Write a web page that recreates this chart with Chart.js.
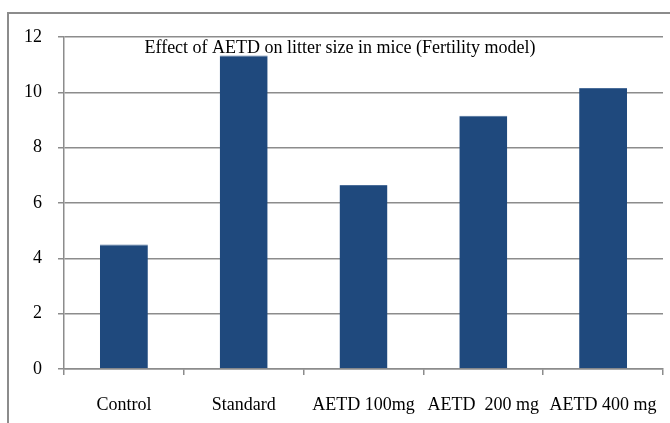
<!DOCTYPE html>
<html>
<head>
<meta charset="utf-8">
<script src="https://cdn.jsdelivr.net/npm/chart.js@4/dist/chart.umd.min.js"></script>
<style>
  html, body { margin: 0; padding: 0; background: #fff; overflow: hidden; }
  #frame { position: absolute; left: 7px; top: 12px; width: 720px; height: 480px; border: 2px solid #8c8c8c; }
  #wrap { position: absolute; left: 0; top: 0; width: 670px; height: 423px; }
</style>
</head>
<body>
<div id="frame"></div>
<div id="wrap"><canvas id="litterChart" width="670" height="423"></canvas></div>
<script>
// litter size data
const groups = ['Control', 'Standard', 'AETD 100mg', 'AETD  200 mg', 'AETD 400 mg'];
const litterSize = [4.5, 11.33, 6.65, 9.15, 10.16];
const yTicks = [0, 2, 4, 6, 8, 10, 12];
const chartTitle = 'Effect of AETD on litter size in mice (Fertility model)';

const serif = '"Liberation Serif", "Times New Roman", serif';
const gridGray = '#8c8c8c';

// title sits inside the plot area, over the bars
const titleInside = {
  id: 'titleInside',
  afterDatasetsDraw(chart) {
    const ctx = chart.ctx;
    ctx.save();
    ctx.font = '18px ' + serif;
    ctx.fillStyle = '#000';
    ctx.textAlign = 'center';
    ctx.textBaseline = 'middle';
    ctx.fillText(chartTitle, 340, 48);
    ctx.restore();
  }
};

const ctx = document.getElementById('litterChart').getContext('2d');
new Chart(ctx, {
  type: 'bar',
  data: {
    labels: groups,
    datasets: [
      {
        label: 'Litter size',
        data: litterSize,
        backgroundColor: '#1f497d',
        borderColor: '#4a6d99',
        borderWidth: { top: 1, left: 0, right: 0, bottom: 0 },
        borderSkipped: 'bottom',
        barPercentage: 0.4,
        categoryPercentage: 1,
      },
    ],
  },
  options: {
    responsive: false,
    animation: false,
    layout: { padding: { left: 0, right: 7, top: 37, bottom: 0 } },
    plugins: {
      legend: { display: false },
      title: { display: false },
      tooltip: { enabled: false },
    },
    scales: {
      x: {
        grid: {
          display: true,
          drawOnChartArea: false,
          drawTicks: true,
          tickLength: 6,
          color: gridGray,
          lineWidth: 1.5,
        },
        border: { display: true, color: gridGray, width: 1.5 },
        ticks: {
          color: '#000',
          font: { family: serif, size: 18 },
          padding: 19,
          maxRotation: 0,
          autoSkip: false,
        },
        afterFit(scale) {
          scale.height = 54;
          scale.paddingLeft = 0;
          scale.paddingRight = 0;
        },
      },
      y: {
        min: 0,
        max: 12,
        afterBuildTicks(scale) { scale.ticks = yTicks.map((v) => ({ value: v })); },
        grid: {
          color: gridGray,
          lineWidth: 1.5,
          tickLength: 6,
        },
        border: { display: true, color: gridGray, width: 1.5 },
        ticks: {
          color: '#000',
          font: { family: serif, size: 18 },
          padding: 16,
        },
        afterFit(scale) { scale.width = 64; },
      },
    },
  },
  plugins: [titleInside],
});
</script>
</body>
</html>
